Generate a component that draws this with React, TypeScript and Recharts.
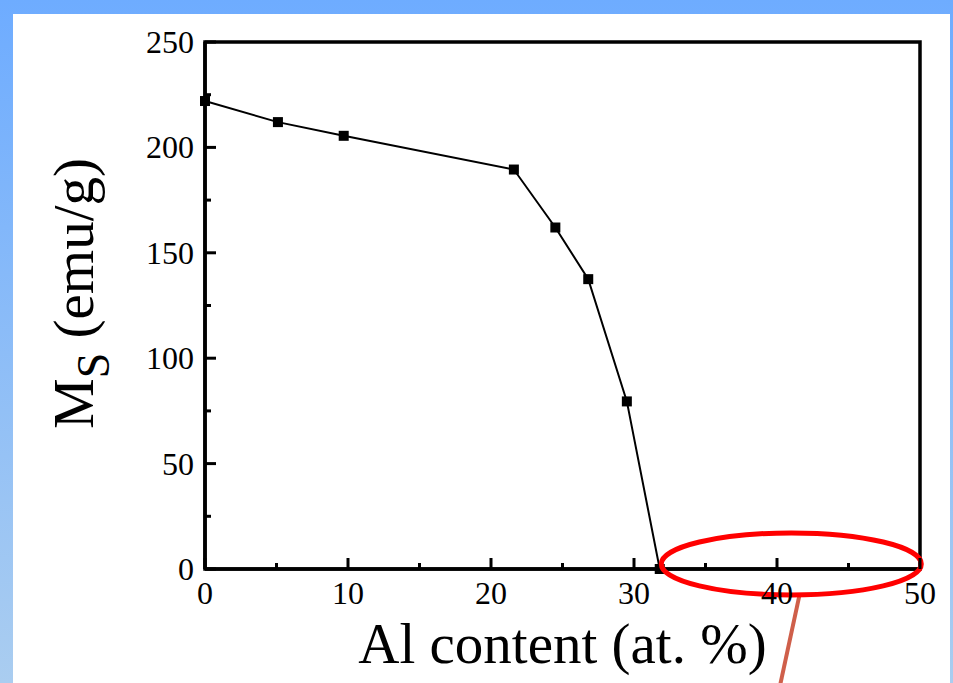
import React from 'react';
import { LineChart, Line, XAxis, YAxis, ReferenceArea, ReferenceDot } from 'recharts';

// Saturation magnetisation vs Al content
const alContent = [0, 5.1, 9.7, 21.6, 24.5, 26.8, 29.5, 31.8];
const msValues = [222, 212, 205.5, 189.5, 162, 137.5, 79.5, 0];
const xTicks = [0, 5, 10, 15, 20, 25, 30, 35, 40, 45, 50];
const yTicks = [0, 25, 50, 75, 100, 125, 150, 175, 200, 225, 250];

const data = alContent.map((x, i) => ({ x, ms: msValues[i] }));

const FONT = '"Liberation Serif", "Times New Roman", serif';

const SquareDot = ({ cx, cy }: any) => {
  if (cx == null || cy == null) return null;
  return <rect x={cx - 5} y={cy - 5} width={10} height={10} fill="#000" />;
};

const XTick = ({ x, y, payload }: any) => {
  const major = payload.value % 10 === 0;
  return (
    <g>
      <line x1={x} x2={x} y1={y} y2={y - (major ? 11 : 6)} stroke="#000" strokeWidth={3} />
      {major && (
        <text x={x} y={y + 35} textAnchor="middle" fontSize={32} fontFamily={FONT} fill="#000">
          {payload.value}
        </text>
      )}
    </g>
  );
};

const YTick = ({ x, y, payload }: any) => {
  const major = payload.value % 50 === 0;
  return (
    <g>
      <line x1={x} x2={x + (major ? 11 : 6)} y1={y} y2={y} stroke="#000" strokeWidth={3} />
      {major && (
        <text x={x - 11} y={y + 11} textAnchor="end" fontSize={32} fontFamily={FONT} fill="#000">
          {payload.value}
        </text>
      )}
    </g>
  );
};

const XTitle = ({ viewBox }: any) => {
  const cx = viewBox.x + viewBox.width / 2;
  return (
    <text x={cx} y={viewBox.y + 94} textAnchor="middle" fontSize={57} fontFamily={FONT} fill="#000">
      Al content (at. %)
    </text>
  );
};

const YTitle = ({ viewBox }: any) => {
  const cx = 93;
  const cy = viewBox.y + viewBox.height / 2 - 12;
  return (
    <text
      x={cx}
      y={cy}
      transform={`rotate(-90, ${cx}, ${cy})`}
      textAnchor="middle"
      fontSize={57}
      fontFamily={FONT}
      fill="#000"
    >
      M
      <tspan fontSize={46} dy={16}>S</tspan>
      <tspan dy={-16}> (emu/g)</tspan>
    </text>
  );
};

// red ellipse around the zero region plus the pointer line
const Highlight = ({ cx, cy }: any) => {
  if (cx == null || cy == null) return null;
  return (
    <g>
      <line x1={cx + 8} y1={cy + 32} x2={cx - 12} y2={cy + 125} stroke="#cf5f4a" strokeWidth={4} />
      <ellipse cx={cx} cy={cy} rx={130} ry={31} fill="none" stroke="#ff0000" strokeWidth={5} />
    </g>
  );
};

export default function App() {
  return (
    <div
      style={{
        position: 'fixed',
        top: 0,
        left: 0,
        width: 953,
        height: 683,
        background: 'linear-gradient(to bottom, #6eacff, #aacdf0)',
        overflow: 'hidden',
      }}
    >
      <div style={{ position: 'absolute', left: 13, top: 14, width: 937, height: 669, background: '#fff' }} />
      <div style={{ position: 'absolute', left: 0, top: 0 }}>
        <LineChart width={953} height={683} data={data} margin={{ top: 42, right: 33, left: 145, bottom: 54 }}>
          <XAxis
            dataKey="x"
            type="number"
            domain={[0, 50]}
            ticks={xTicks}
            interval={0}
            tickSize={0}
            tickMargin={0}
            tickLine={false}
            tick={<XTick />}
            axisLine={{ stroke: '#000', strokeWidth: 3.5 }}
            height={60}
            label={<XTitle />}
          />
          <YAxis
            type="number"
            domain={[0, 250]}
            ticks={yTicks}
            interval={0}
            tickSize={0}
            tickMargin={0}
            tickLine={false}
            tick={<YTick />}
            axisLine={{ stroke: '#000', strokeWidth: 3.5 }}
            width={60}
            label={<YTitle />}
          />
          <ReferenceArea x1={0} x2={50} y1={0} y2={250} fill="none" stroke="#000" strokeWidth={3.5} />
          <Line
            dataKey="ms"
            stroke="#000"
            strokeWidth={2}
            dot={<SquareDot />}
            activeDot={false}
            isAnimationActive={false}
          />
          <ReferenceDot x={41} y={2.4} ifOverflow="visible" shape={<Highlight />} />
        </LineChart>
      </div>
    </div>
  );
}
